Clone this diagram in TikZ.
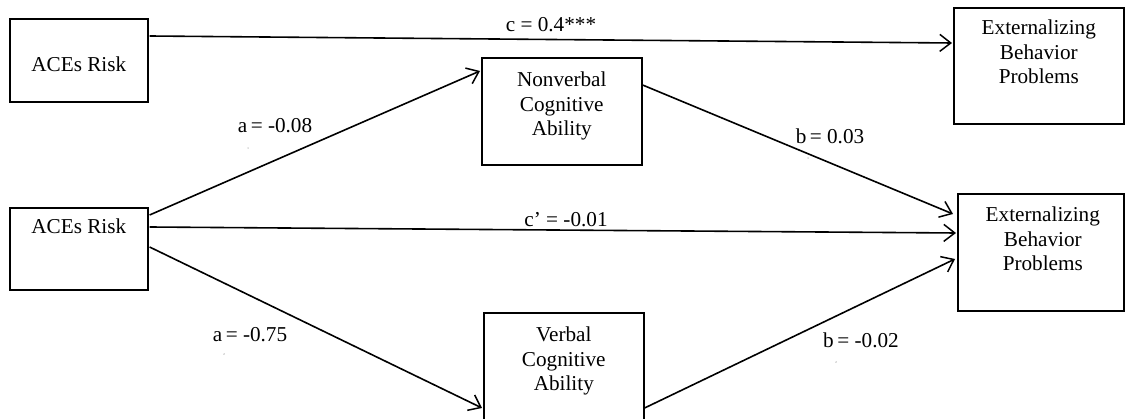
\documentclass[tikz,border=0pt]{standalone}
\usepackage{fontspec}
\setmainfont{Liberation Serif}
\usetikzlibrary{arrows.meta,calc}
\begin{document}
\begin{tikzpicture}[x=1pt,y=-1pt,
  box/.style={draw=black,line width=1.6pt,inner sep=0pt,anchor=north west,font=\fontsize{21.2}{24.4}\selectfont},
  arr/.style={draw=black,line width=1.6pt,-{Straight Barb[length=11pt,width=17pt,line width=1.5pt]}},
  lbl/.style={anchor=base,inner sep=0pt,font=\fontsize{21.2}{24.4}\selectfont},
  tiny/.style={anchor=base,inner sep=0pt,text=black!60,font=\fontsize{3}{3}\selectfont}]
\useasboundingbox (0,0) rectangle (1125,419);
\fill[white] (0,0) rectangle (1125,419);
\begin{scope}
\clip (0,0) rectangle (1125,419);
\node[box] (aces1) at (9,18) {\parbox[c][83pt][t]{138pt}{\centering\rule{0pt}{53pt}ACEs Risk}};
\node[box] (aces2) at (9,207) {\parbox[c][82pt][t]{138pt}{\centering\rule{0pt}{26pt}ACEs Risk}};
\node[box] (nv) at (481,57) {\parbox[c][107pt][t]{160pt}{\centering\rule{0pt}{29pt}Nonverbal\\Cognitive\\Ability}};
\node[box] (vb) at (483,312) {\parbox[c][120pt][t]{160pt}{\centering\rule{0pt}{29pt}Verbal\\Cognitive\\Ability}};
\node[box] (ext1) at (953,7) {\parbox[c][116pt][t]{170pt}{\centering\rule{0pt}{27pt}Externalizing\\Behavior\\Problems}};
\node[box] (ext2) at (957,193) {\parbox[c][117pt][t]{166pt}{\centering\rule{0pt}{28pt}\hspace*{4pt}Externalizing\\\hspace*{4pt}Behavior\\\hspace*{4pt}Problems}};

\draw[arr] ($(aces1.north east)+(1,18)$) -- ($(ext1.north west)+(-1,36)$);
\draw[arr] ($(aces2.north east)+(1,8)$) -- ($(nv.north west)+(-1,14)$);
\draw[arr] ($(aces2.north east)+(1,20)$) -- ($(ext2.north west)+(-1,40)$);
\draw[arr] ($(aces2.north east)+(1,40)$) -- ($(vb.north west)+(-1,96)$);
\draw[arr] ($(nv.north east)+(0,28)$) -- ($(ext2.north west)+(-4,21)$);
\draw[arr] ($(vb.north east)+(0,96)$) -- ($(ext2.north west)+(-2,66)$);

\node[lbl] (lc) at (551,32) {c = 0.4***};
\node[lbl] (la1) at (275,133) {a\,= -0.08};
\node[tiny] (s1) at (248,150) {1};
\node[lbl] (lb1) at (830,144) {b\,= 0.03};
\node[tiny] (s2) at (808,160) {1};
\node[lbl] (lcp) at (566,227) {c’ = -0.01};
\node[lbl] (la2) at (250,342) {a\,= -0.75};
\node[tiny] (s3) at (224,356) {2};
\node[lbl] (lb2) at (861,348) {b\,= -0.02};
\node[tiny] (s4) at (836,364) {2};
\end{scope}
\end{tikzpicture}
\end{document}
